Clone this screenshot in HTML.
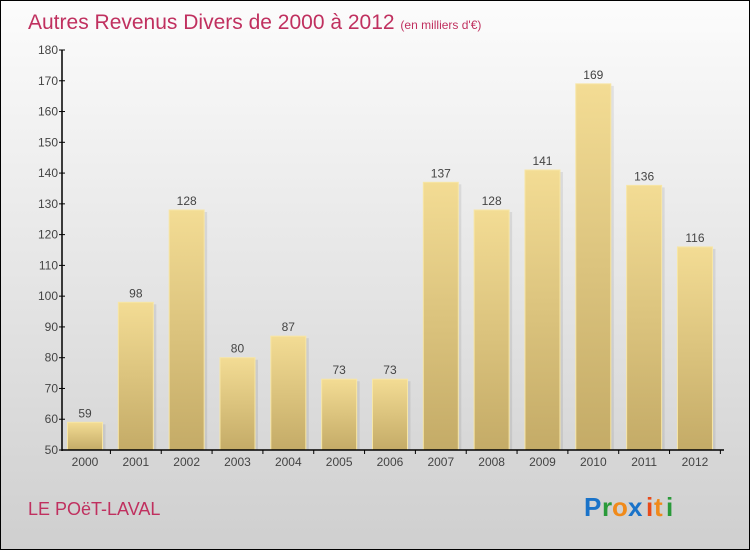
<!DOCTYPE html>
<html><head><meta charset="utf-8"><style>
body{margin:0;}
#wrap{position:relative;width:748px;height:548px;border:1px solid #000;background:linear-gradient(#fcfcfc,#cfcfcf);overflow:hidden;font-family:"Liberation Sans",sans-serif;}
</style></head><body>
<div id="wrap">
<svg id="svg" width="748" height="548" style="position:absolute;left:0;top:0">
<defs>
<linearGradient id="bg" x1="0" y1="0" x2="0" y2="1"><stop offset="0" stop-color="#f3dc94"/><stop offset="1" stop-color="#c4ab67"/></linearGradient>
</defs>
<text x="27" y="28" font-size="21" fill="#c0305f">Autres Revenus Divers de 2000 à 2012 <tspan font-size="12">(en milliers d'€)</tspan></text>
<text x="27" y="514" font-size="18" fill="#c0305f">LE POëT-LAVAL</text>
<g font-size="26" font-family="Liberation Sans, sans-serif" font-weight="bold">
<text x="583" y="515" fill="#1a73c9">P</text><text x="601" y="515" fill="#2a9a3a">r</text><text x="611" y="515" fill="#f08a1a">o</text><text x="627" y="515" fill="#1a73c9">x</text><text x="645" y="515" fill="#e84a1a">i</text><text x="653" y="515" fill="#f08a1a">t</text><text x="665" y="515" fill="#2a9a3a">i</text>
</g>
<g id="plot"></g>
</svg>
</div>
<script>
const categories=["2000","2001","2002","2003","2004","2005","2006","2007","2008","2009","2010","2011","2012"];
const values=[59,98,128,80,87,73,73,137,128,141,169,136,116];
const yTicks=[50,60,70,80,90,100,110,120,130,140,150,160,170,180];
const NS="http://www.w3.org/2000/svg";
const g=document.getElementById('plot');
const x0=61,yTop=49,yBot=449,yMin=50,yMax=180,step=50.83,bw=35;
const y=v=>yBot-(v-yMin)/(yMax-yMin)*(yBot-yTop);
const cx=i=>84+i*step;
function mk(t,a){const e=document.createElementNS(NS,t);for(const k in a)e.setAttribute(k,a[k]);g.appendChild(e);return e;}
categories.forEach((c,i)=>{
 const v=values[i],x=cx(i)-bw/2;
 const sh=mk('rect',{x:x+3,y:y(v)+2,width:bw,height:yBot-y(v)-2,fill:'rgba(0,0,0,0.08)'});
 
 
 const r=mk('rect',{x:x,y:y(v),width:bw,height:yBot-y(v),fill:'url(#bg)',stroke:'#f7e6a6','stroke-width':1});
 
 
 const t=mk('text',{x:cx(i),y:y(v)-5,'text-anchor':'middle','font-size':12,fill:'#444'});t.textContent=v;
 
 
 const l=mk('text',{x:cx(i),y:yBot+16,'text-anchor':'middle','font-size':12,fill:'#444'});l.textContent=c;
 
 
 const tk=mk('line',{x1:cx(i)+step/2,x2:cx(i)+step/2,y1:yBot,y2:yBot+4,stroke:'#000'});
 
 
});
yTicks.forEach(v=>{
 const l=mk('line',{x1:x0-3,x2:x0+3,y1:y(v),y2:y(v),stroke:'#000'});
 
 
 const t=mk('text',{x:x0-4,y:y(v)+4,'text-anchor':'end','font-size':12,fill:'#444'});t.textContent=v;
 
 
});
const ya=mk('line',{x1:x0,x2:x0,y1:yTop,y2:yBot+1,stroke:'#000','stroke-width':1.5});


const xa=mk('line',{x1:x0,x2:723,y1:yBot,y2:yBot,stroke:'#000','stroke-width':1.5});


</script>
</body></html>
